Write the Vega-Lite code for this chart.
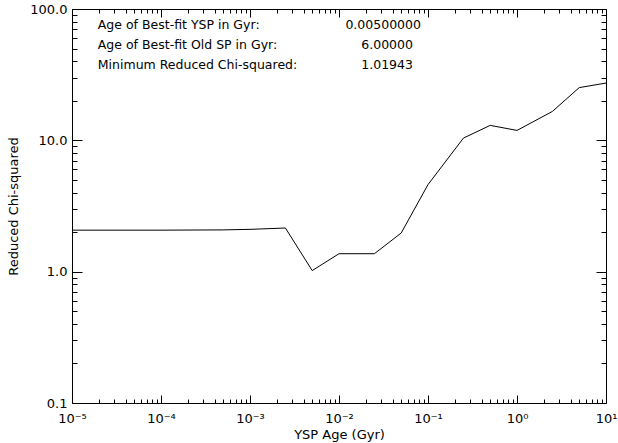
{
  "$schema": "https://vega.github.io/schema/vega-lite/v6.json",
  "autosize": "none",
  "width": 534,
  "height": 394,
  "padding": {"left": 72, "top": 9, "right": 12, "bottom": 40},
  "background": "white",
  "config": {
    "view": {"stroke": "black", "strokeWidth": 1},
    "font": "DejaVu Sans",
    "text": {"font": "DejaVu Sans", "fontSize": 12.5, "color": "black", "align": "left", "baseline": "middle"},
    "axis": {
      "domain": false,
      "grid": false,
      "tickColor": "black",
      "tickWidth": 1,
      "labelColor": "black",
      "titleColor": "black",
      "labelFont": "DejaVu Sans",
      "titleFont": "DejaVu Sans",
      "labelFontSize": 13,
      "titleFontSize": 13,
      "titleFontWeight": "normal",
      "labelOverlap": false,
      "labelFlush": false,
      "labelBound": false
    }
  },
  "data": {
    "values": [
      {"age": 0.00001, "chi2": 2.07},
      {"age": 0.0001, "chi2": 2.07},
      {"age": 0.0005, "chi2": 2.08},
      {"age": 0.001, "chi2": 2.1},
      {"age": 0.0025, "chi2": 2.15},
      {"age": 0.005, "chi2": 1.01943},
      {"age": 0.01, "chi2": 1.37},
      {"age": 0.025, "chi2": 1.37},
      {"age": 0.05, "chi2": 1.97},
      {"age": 0.1, "chi2": 4.6},
      {"age": 0.25, "chi2": 10.4},
      {"age": 0.5, "chi2": 13.0},
      {"age": 1.0, "chi2": 11.9},
      {"age": 2.5, "chi2": 16.6},
      {"age": 5.0, "chi2": 25.2},
      {"age": 10.0, "chi2": 27.3}
    ]
  },
  "resolve": {"scale": {"x": "independent", "y": "independent"}, "axis": {"x": "independent", "y": "independent"}},
  "layer": [
    {
      "mark": {"type": "line", "color": "black", "strokeWidth": 1, "clip": true},
      "encoding": {
        "x": {
          "field": "age", "type": "quantitative",
          "scale": {"type": "log", "domain": [0.00001, 10], "nice": false},
          "axis": {
            "orient": "bottom",
            "title": "YSP Age (Gyr)",
            "titlePadding": 3,
            "values": [0.00001, 0.0001, 0.001, 0.01, 0.1, 1, 10],
            "tickSize": -8,
            "labelPadding": 17,
            "labelExpr": "['10⁻⁵','10⁻⁴','10⁻³','10⁻²','10⁻¹','10⁰','10¹'][round(log(datum.value)/LN10)+5]"
          }
        },
        "y": {
          "field": "chi2", "type": "quantitative",
          "scale": {"type": "log", "domain": [0.1, 100], "nice": false},
          "axis": {
            "orient": "left",
            "title": "Reduced Chi-squared",
            "titlePadding": 9,
            "values": [0.1, 1, 10, 100],
            "tickSize": -10,
            "labelPadding": 15,
            "labelExpr": "format(datum.value, '.1f')"
          }
        }
      }
    },
    {
      "mark": {"type": "line", "opacity": 0},
      "encoding": {
        "x": {
          "field": "age", "type": "quantitative",
          "scale": {"type": "log", "domain": [0.00001, 10], "nice": false},
          "axis": {
            "orient": "bottom", "title": null, "labels": false, "tickSize": -4,
            "values": [0.00002,0.00003,0.00004,0.00005,0.00006,0.00007,0.00008,0.00009,0.0002,0.0003,0.0004,0.0005,0.0006,0.0007,0.0008,0.0009,0.002,0.003,0.004,0.005,0.006,0.007,0.008,0.009,0.02,0.03,0.04,0.05,0.06,0.07,0.08,0.09,0.2,0.3,0.4,0.5,0.6,0.7,0.8,0.9,2,3,4,5,6,7,8,9]
          }
        },
        "y": {
          "field": "chi2", "type": "quantitative",
          "scale": {"type": "log", "domain": [0.1, 100], "nice": false},
          "axis": {
            "orient": "left", "title": null, "labels": false, "tickSize": -5,
            "values": [0.2,0.3,0.4,0.5,0.6,0.7,0.8,0.9,2,3,4,5,6,7,8,9,20,30,40,50,60,70,80,90]
          }
        }
      }
    },
    {
      "mark": {"type": "line", "opacity": 0},
      "encoding": {
        "x": {
          "field": "age", "type": "quantitative",
          "scale": {"type": "log", "domain": [0.00001, 10], "nice": false},
          "axis": {
            "orient": "top", "title": null, "labels": false, "tickSize": -8,
            "values": [0.00001, 0.0001, 0.001, 0.01, 0.1, 1, 10]
          }
        },
        "y": {
          "field": "chi2", "type": "quantitative",
          "scale": {"type": "log", "domain": [0.1, 100], "nice": false},
          "axis": {
            "orient": "right", "title": null, "labels": false, "tickSize": -10,
            "values": [0.1, 1, 10, 100]
          }
        }
      }
    },
    {
      "mark": {"type": "line", "opacity": 0},
      "encoding": {
        "x": {
          "field": "age", "type": "quantitative",
          "scale": {"type": "log", "domain": [0.00001, 10], "nice": false},
          "axis": {
            "orient": "top", "title": null, "labels": false, "tickSize": -4,
            "values": [0.00002,0.00003,0.00004,0.00005,0.00006,0.00007,0.00008,0.00009,0.0002,0.0003,0.0004,0.0005,0.0006,0.0007,0.0008,0.0009,0.002,0.003,0.004,0.005,0.006,0.007,0.008,0.009,0.02,0.03,0.04,0.05,0.06,0.07,0.08,0.09,0.2,0.3,0.4,0.5,0.6,0.7,0.8,0.9,2,3,4,5,6,7,8,9]
          }
        },
        "y": {
          "field": "chi2", "type": "quantitative",
          "scale": {"type": "log", "domain": [0.1, 100], "nice": false},
          "axis": {
            "orient": "right", "title": null, "labels": false, "tickSize": -5,
            "values": [0.2,0.3,0.4,0.5,0.6,0.7,0.8,0.9,2,3,4,5,6,7,8,9,20,30,40,50,60,70,80,90]
          }
        }
      }
    },
    {
      "data": {"values": [{"t": "Age of Best-fit YSP in Gyr:"}]},
      "mark": {"type": "text"},
      "encoding": {
        "x": {"datum": 0.0000195, "scale": {"type": "log", "domain": [0.00001, 10], "nice": false}, "axis": null},
        "y": {"datum": 75.5, "scale": {"type": "log", "domain": [0.1, 100], "nice": false}, "axis": null},
        "text": {"field": "t"}
      }
    },
    {
      "data": {"values": [{"t": "Age of Best-fit Old SP in Gyr:"}]},
      "mark": {"type": "text"},
      "encoding": {
        "x": {"datum": 0.0000195, "scale": {"type": "log", "domain": [0.00001, 10], "nice": false}, "axis": null},
        "y": {"datum": 53.2, "scale": {"type": "log", "domain": [0.1, 100], "nice": false}, "axis": null},
        "text": {"field": "t"}
      }
    },
    {
      "data": {"values": [{"t": "Minimum Reduced Chi-squared:"}]},
      "mark": {"type": "text"},
      "encoding": {
        "x": {"datum": 0.0000195, "scale": {"type": "log", "domain": [0.00001, 10], "nice": false}, "axis": null},
        "y": {"datum": 37.5, "scale": {"type": "log", "domain": [0.1, 100], "nice": false}, "axis": null},
        "text": {"field": "t"}
      }
    },
    {
      "data": {"values": [{"t": "0.00500000"}]},
      "mark": {"type": "text"},
      "encoding": {
        "x": {"datum": 0.0118, "scale": {"type": "log", "domain": [0.00001, 10], "nice": false}, "axis": null},
        "y": {"datum": 75.5, "scale": {"type": "log", "domain": [0.1, 100], "nice": false}, "axis": null},
        "text": {"field": "t"}
      }
    },
    {
      "data": {"values": [{"t": "6.00000"}]},
      "mark": {"type": "text"},
      "encoding": {
        "x": {"datum": 0.0178, "scale": {"type": "log", "domain": [0.00001, 10], "nice": false}, "axis": null},
        "y": {"datum": 53.2, "scale": {"type": "log", "domain": [0.1, 100], "nice": false}, "axis": null},
        "text": {"field": "t"}
      }
    },
    {
      "data": {"values": [{"t": "1.01943"}]},
      "mark": {"type": "text"},
      "encoding": {
        "x": {"datum": 0.0178, "scale": {"type": "log", "domain": [0.00001, 10], "nice": false}, "axis": null},
        "y": {"datum": 37.5, "scale": {"type": "log", "domain": [0.1, 100], "nice": false}, "axis": null},
        "text": {"field": "t"}
      }
    }
  ]
}
